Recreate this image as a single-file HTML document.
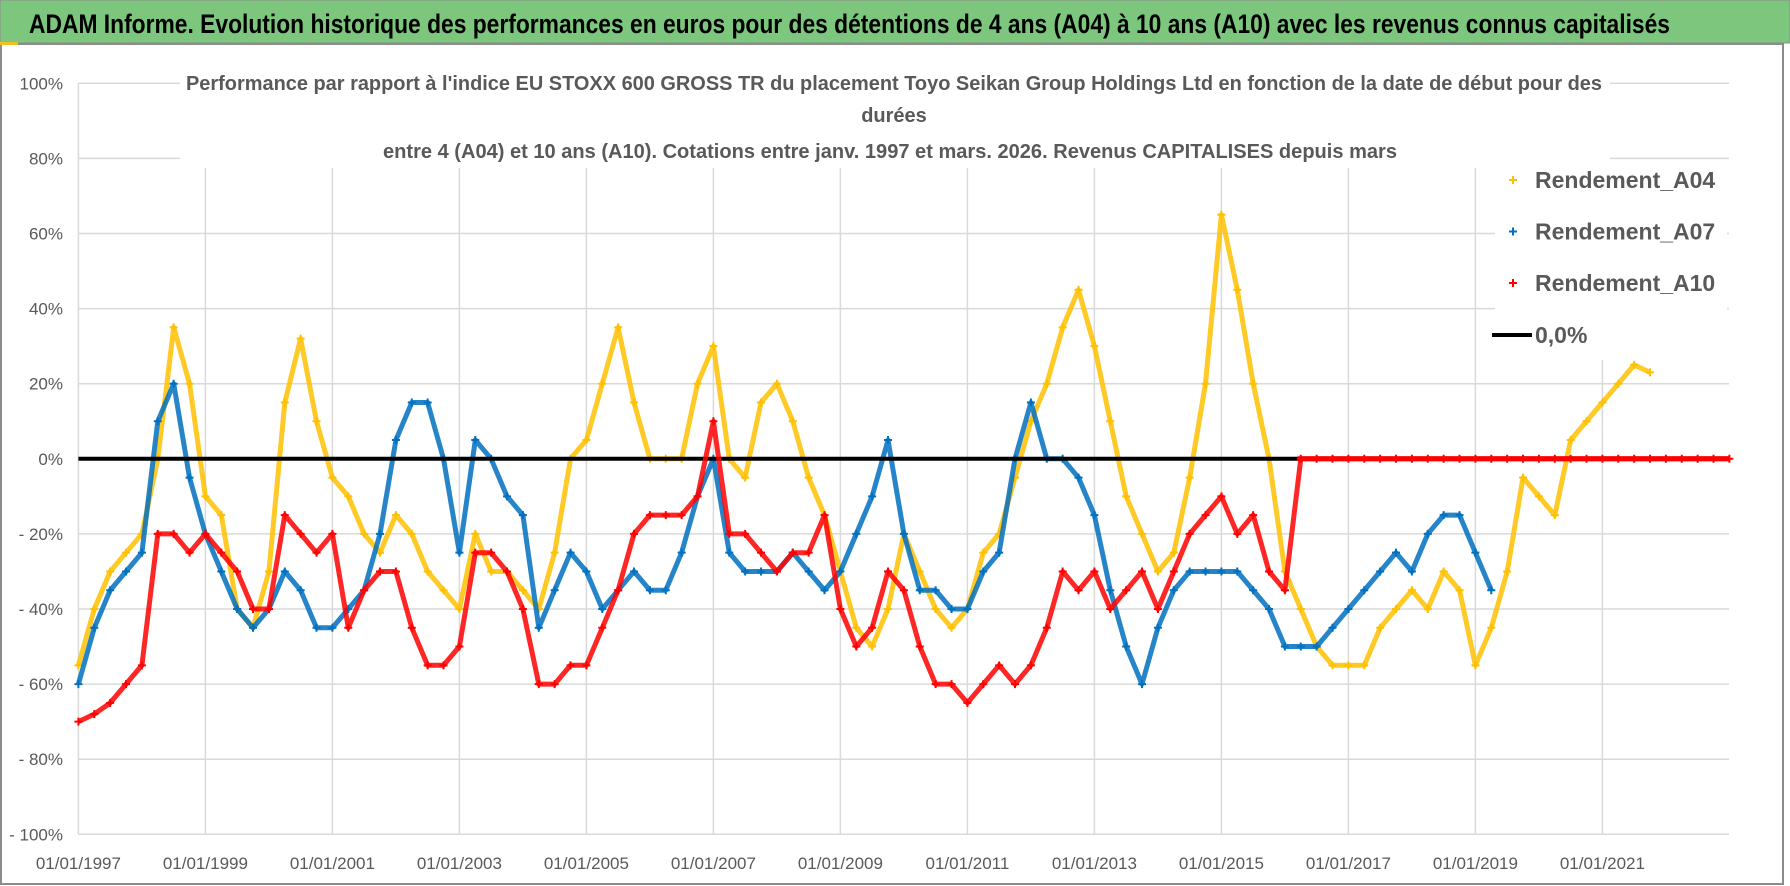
<!DOCTYPE html>
<html><head><meta charset="utf-8">
<style>
html,body{margin:0;padding:0;background:#fff;}
svg{display:block;font-family:"Liberation Sans",sans-serif;}
</style></head>
<body>
<svg id="chart" width="1790" height="886" viewBox="0 0 1790 886">
  <rect x="0" y="0" width="1790" height="886" fill="#fff"/>
  <rect x="1" y="44" width="1782" height="840" fill="#fff" stroke="#8c8c8c" stroke-width="2"/>
  <rect x="0" y="0" width="1790" height="43" fill="#7dc67d" stroke="#8c8c8c" stroke-width="1"/>
  <rect x="0" y="42" width="18" height="3" fill="#f0c020"/>
  <text x="29" y="33" font-size="27" font-weight="bold" fill="#000" textLength="1641" lengthAdjust="spacingAndGlyphs">ADAM Informe. Evolution historique des performances en euros pour des détentions de 4 ans (A04) à 10 ans (A10) avec les revenus connus capitalisés</text>
  <g id="grid"></g>
  <g id="yaxis"></g>
  <g id="xaxis"></g>
  <rect x="180" y="66" width="1430" height="102" fill="#fff"/>
  <text x="894" y="90" font-size="20" font-weight="bold" fill="#595959" text-anchor="middle" textLength="1416" lengthAdjust="spacingAndGlyphs">Performance par rapport à l'indice EU STOXX 600 GROSS TR  du placement Toyo Seikan Group Holdings Ltd en fonction de la date de début pour des</text>
  <text x="894" y="122" font-size="20" font-weight="bold" fill="#595959" text-anchor="middle">durées</text>
  <text x="890" y="158" font-size="20" font-weight="bold" fill="#595959" text-anchor="middle" textLength="1014" lengthAdjust="spacingAndGlyphs">entre 4 (A04) et 10 ans (A10).  Cotations entre janv. 1997 et mars. 2026. Revenus CAPITALISES depuis mars</text>
  <g id="series"></g>
  <g id="legend">
    <rect x="1495" y="160" width="232" height="200" fill="#fff"/>
  </g>
</svg>
<script>
const startYear = 1997;
const step = 0.25;
const yTicks = [100,80,60,40,20,0,-20,-40,-60,-80,-100];
const yTickLabels = ["100%","80%","60%","40%","20%","0%","- 20%","- 40%","- 60%","- 80%","- 100%"];
const xTickYears = [1997,1999,2001,2003,2005,2007,2009,2011,2013,2015,2017,2019,2021];
const xTickLabels = ["01/01/1997","01/01/1999","01/01/2001","01/01/2003","01/01/2005","01/01/2007","01/01/2009","01/01/2011","01/01/2013","01/01/2015","01/01/2017","01/01/2019","01/01/2021"];
const seriesNames = ["Rendement_A04","Rendement_A07","Rendement_A10"];
const a04 = [-55,-40,-30,-25,-20,0,35,20,-10,-15,-40,-45,-30,15,32,10,-5,-10,-20,-25,-15,-20,-30,-35,-40,-20,-30,-30,-35,-40,-25,0,5,20,35,15,0,0,0,20,30,0,-5,15,20,10,-5,-15,-30,-45,-50,-40,-20,-30,-40,-45,-40,-25,-20,-5,10,20,35,45,30,10,-10,-20,-30,-25,-5,20,65,45,20,0,-30,-40,-50,-55,-55,-55,-45,-40,-35,-40,-30,-35,-55,-45,-30,-5,-10,-15,5,10,15,20,25,23];
const a07 = [-60,-45,-35,-30,-25,10,20,-5,-20,-30,-40,-45,-40,-30,-35,-45,-45,-40,-35,-20,5,15,15,0,-25,5,0,-10,-15,-45,-35,-25,-30,-40,-35,-30,-35,-35,-25,-10,0,-25,-30,-30,-30,-25,-30,-35,-30,-20,-10,5,-20,-35,-35,-40,-40,-30,-25,0,15,0,0,-5,-15,-35,-50,-60,-45,-35,-30,-30,-30,-30,-35,-40,-50,-50,-50,-45,-40,-35,-30,-25,-30,-20,-15,-15,-25,-35];
const a10 = [-70,-68,-65,-60,-55,-20,-20,-25,-20,-25,-30,-40,-40,-15,-20,-25,-20,-45,-35,-30,-30,-45,-55,-55,-50,-25,-25,-30,-40,-60,-60,-55,-55,-45,-35,-20,-15,-15,-15,-10,10,-20,-20,-25,-30,-25,-25,-15,-40,-50,-45,-30,-35,-50,-60,-60,-65,-60,-55,-60,-55,-45,-30,-35,-30,-40,-35,-30,-40,-30,-20,-15,-10,-20,-15,-30,-35,0,0,0,0,0,0,0,0,0,0,0,0,0,0,0,0,0,0,0,0,0,0,0,0,0,0,0,0];
const zeroLineValue = 0;

const NS = "http://www.w3.org/2000/svg";
const X0 = 78.4, PX_PER_YEAR = 63.5, PLOT_RIGHT = 1729, PLOT_TOP = 83.3, PLOT_BOTTOM = 834.3;
function xScale(yr){ return X0 + (yr - startYear) * PX_PER_YEAR; }
function yScale(v){ return 458.8 - v * 3.755; }
function mk(tag, attrs, parent){ const e = document.createElementNS(NS, tag); for (const k in attrs) e.setAttribute(k, attrs[k]); parent.appendChild(e); return e; }

const grid = document.getElementById('grid');
yTicks.forEach((t,i)=>{
  const l = mk('line',{x1:X0,x2:PLOT_RIGHT,y1:yScale(t),y2:yScale(t),stroke:'#d9d9d9','stroke-width':1.5},grid);
  
  
  const tx = mk('text',{x:63,y:yScale(t)+6,'font-size':17,fill:'#595959','text-anchor':'end'},document.getElementById('yaxis'));
  tx.textContent = yTickLabels[i];
  
  
});
xTickYears.forEach((yr,i)=>{
  const l = mk('line',{x1:xScale(yr),x2:xScale(yr),y1:PLOT_TOP,y2:PLOT_BOTTOM,stroke:'#d9d9d9','stroke-width':1.5},grid);
  
  
  const tx = mk('text',{x:xScale(yr),y:869,'font-size':17,fill:'#595959','text-anchor':'middle'},document.getElementById('xaxis'));
  tx.textContent = xTickLabels[i];
  
  
});

const seriesG = document.getElementById('series');
function drawSeries(vals, color, name){
  const g = mk('g',{},seriesG);
  
  
  const pts = vals.map((v,i)=>xScale(startYear+i*step).toFixed(1)+','+yScale(v).toFixed(1)).join(' ');
  const pl = mk('polyline',{points:pts,fill:'none',stroke:color,'stroke-width':5,'stroke-linejoin':'round','stroke-opacity':0.85},g);
  
  
  vals.forEach((v,i)=>{
    const cx = xScale(startYear+i*step), cy = yScale(v);
    const p = mk('path',{d:`M${cx-4} ${cy}h8M${cx} ${cy-4}v8`,stroke:color,'stroke-width':2},g);
    
    
  });
}
drawSeries(a04,'#ffc000','series-a04');
drawSeries(a07,'#0070c0','series-a07');
const zl = mk('line',{x1:X0,x2:PLOT_RIGHT,y1:yScale(zeroLineValue),y2:yScale(zeroLineValue),stroke:'#000','stroke-width':4},seriesG);


drawSeries(a10,'#ff0000','series-a10');
const rz = mk('line',{x1:xScale(2016.2),x2:PLOT_RIGHT,y1:yScale(0),y2:yScale(0),stroke:'#ff0000','stroke-width':5},seriesG);



const leg = document.getElementById('legend');
const legColors = ['#ffc000','#0070c0','#ff0000'];
seriesNames.forEach((n,i)=>{
  const cy = 180 + i*51.5;
  const p = mk('path',{d:`M1509 ${cy}h8M1513 ${cy-4}v8`,stroke:legColors[i],'stroke-width':2},leg);
  
  
  const t = mk('text',{x:1535,y:cy+8,'font-size':23,'font-weight':'bold',fill:'#595959'},leg);
  t.textContent = n;
  
  
});
const ll = mk('line',{x1:1492,x2:1532,y1:335,y2:335,stroke:'#000','stroke-width':4},leg);


const lt = mk('text',{x:1535,y:343,'font-size':23,'font-weight':'bold',fill:'#595959'},leg);
lt.textContent = '0,0%';


</script>
</body></html>
